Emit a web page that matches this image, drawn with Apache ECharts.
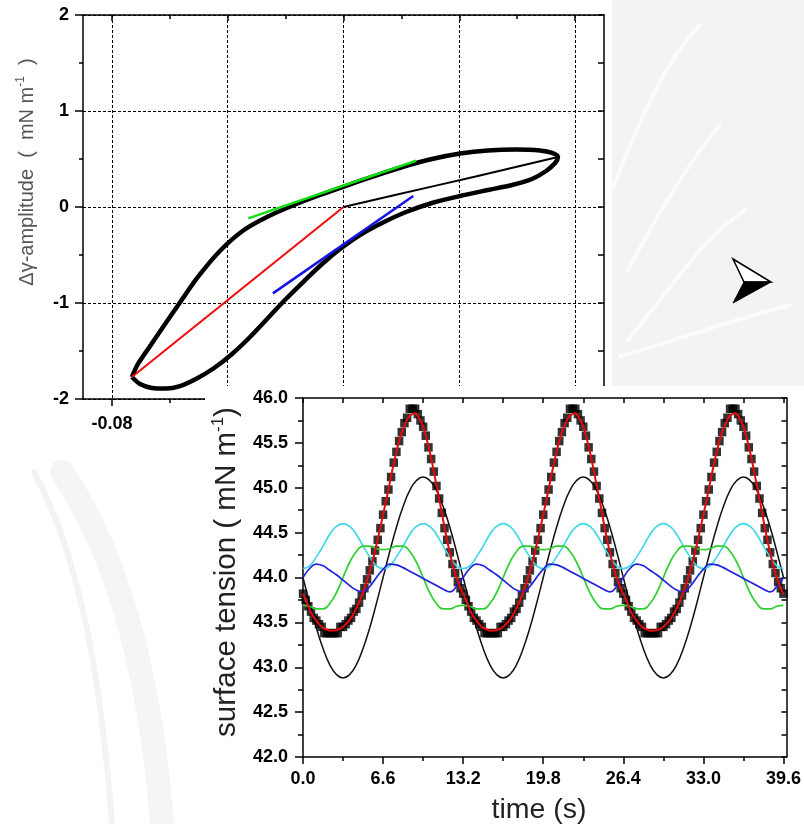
<!DOCTYPE html>
<html><head><meta charset="utf-8">
<script src="https://cdn.jsdelivr.net/npm/echarts@6/dist/echarts.min.js"></script>
<style>
html,body{margin:0;padding:0;background:#fff;width:804px;height:824px;overflow:hidden;}
#top{position:absolute;left:0;top:0;width:804px;height:824px;}
#bot{position:absolute;left:205px;top:386px;width:599px;height:438px;background:#fff;}
</style></head><body>
<div id="top"></div><div id="bot"></div>
<script>
// ---------- top plot (Lissajous) ----------
const xMajorTop = [-0.08, -0.04, 0, 0.04, 0.08];
const xMinorTop = [-0.06, -0.02, 0.02, 0.06];
const loopX = [-0.0731,-0.0703,-0.0662,-0.0613,-0.0565,-0.0510,-0.0447,-0.0385,-0.0323,-0.0261,-0.0199,-0.0136,-0.0074,-0.0012,0.0057,0.0133,0.0216,0.0306,0.0403,0.0499,0.0582,0.0651,0.0700,0.0731,0.0741,
  0.0721,0.0679,0.0596,0.0499,0.0403,0.0306,0.0209,0.0112,0.0016,-0.0081,-0.0171,-0.0261,-0.0344,-0.0427,-0.0503,-0.0565,-0.0620,-0.0668,-0.0710,-0.0731];
const loopY = [-1.771,-1.844,-1.885,-1.891,-1.865,-1.792,-1.677,-1.531,-1.354,-1.156,-0.958,-0.771,-0.594,-0.438,-0.292,-0.167,-0.052,0.042,0.115,0.177,0.229,0.292,0.375,0.458,0.521,
  0.563,0.589,0.599,0.589,0.557,0.500,0.422,0.328,0.229,0.125,0.021,-0.099,-0.240,-0.458,-0.729,-0.995,-1.234,-1.448,-1.635,-1.771];
const innerX = [0, 0.0178, 0.0453, 0.0741];
const innerY = [0, 0.125, 0.316, 0.521];
const redX = [-0.0731, 0];
const redY = [-1.771, 0];
const greenX = [-0.0329, 0.0251];
const greenY = [-0.118, 0.482];
const blueX = [-0.0244, 0.0241];
const blueY = [-0.90, 0.115];

// ---------- bottom plot (time series) ----------
const timeTicks = [0, 6.6, 13.2, 19.8, 26.4, 33.0, 39.6];
const timeMinor = [3.3, 9.9, 16.5, 23.1, 29.7, 36.3];
const timeTop = [0,3.3,6.6,9.9,13.2,16.5,19.8,23.1,26.4,29.7,33.0,36.3,39.6];
const tLine = [0,0.55,1.1,1.65,2.2,2.75,3.3,3.85,4.4,4.95,5.5,6.05,6.6,7.15,7.7,8.25,8.8,9.35,9.9,10.45,11,11.55,12.1,12.65,
  13.2,13.75,14.3,14.85,15.4,15.95,16.5,17.05,17.6,18.15,18.7,19.25,19.8,20.35,20.9,21.45,22,22.55,23.1,23.65,24.2,24.75,25.3,25.85,
  26.4,26.95,27.5,28.05,28.6,29.15,29.7,30.25,30.8,31.35,31.9,32.45,33,33.55,34.1,34.65,35.2,35.75,36.3,36.85,37.4,37.95,38.5,39.05,39.6];
const fundamental = [44.00,43.71,43.44,43.21,43.03,42.92,42.88,42.92,43.03,43.21,43.44,43.71,44.00,44.29,44.56,44.79,44.97,45.08,45.12,45.08,44.97,44.79,44.56,44.29,
  44.00,43.71,43.44,43.21,43.03,42.92,42.88,42.92,43.03,43.21,43.44,43.71,44.00,44.29,44.56,44.79,44.97,45.08,45.12,45.08,44.97,44.79,44.56,44.29,
  44.00,43.71,43.44,43.21,43.03,42.92,42.88,42.92,43.03,43.21,43.44,43.71,44.00,44.29,44.56,44.79,44.97,45.08,45.12,45.08,44.97,44.79,44.56,44.29,44.00];
const cyanH = [44.10,44.13,44.23,44.35,44.48,44.57,44.60,44.57,44.48,44.35,44.23,44.13,
  44.10,44.13,44.23,44.35,44.48,44.57,44.60,44.57,44.48,44.35,44.23,44.13,
  44.10,44.13,44.23,44.35,44.48,44.57,44.60,44.57,44.48,44.35,44.23,44.13,
  44.10,44.13,44.23,44.35,44.48,44.57,44.60,44.57,44.48,44.35,44.23,44.13,
  44.10,44.13,44.23,44.35,44.48,44.57,44.60,44.57,44.48,44.35,44.23,44.13,
  44.10,44.13,44.23,44.35,44.48,44.57,44.60,44.57,44.48,44.35,44.23,44.13,44.10];
const greenH = [43.69,43.68,43.65,43.65,43.71,43.83,44.00,44.17,44.29,44.35,44.35,44.32,44.31,44.32,44.35,44.35,44.29,44.17,44.00,43.83,43.71,43.65,43.65,43.68,
  43.69,43.68,43.65,43.65,43.71,43.83,44.00,44.17,44.29,44.35,44.35,44.32,44.31,44.32,44.35,44.35,44.29,44.17,44.00,43.83,43.71,43.65,43.65,43.68,
  43.69,43.68,43.65,43.65,43.71,43.83,44.00,44.17,44.29,44.35,44.35,44.32,44.31,44.32,44.35,44.35,44.29,44.17,44.00,43.83,43.71,43.65,43.65,43.68,43.69];
const blueH = [44.00,44.10,44.15,44.13,44.08,44.03,43.97,43.91,43.86,43.84,43.90,44.00,44.09,44.15,44.14,44.11,44.07,44.03,43.99,43.95,43.91,43.87,43.84,43.90,
  44.00,44.10,44.15,44.13,44.08,44.03,43.97,43.91,43.86,43.84,43.90,44.00,44.09,44.15,44.14,44.11,44.07,44.03,43.99,43.95,43.91,43.87,43.84,43.90,
  44.00,44.10,44.15,44.13,44.08,44.03,43.97,43.91,43.86,43.84,43.90,44.00,44.09,44.15,44.14,44.11,44.07,44.03,43.99,43.95,43.91,43.87,43.84,43.90,44.00];
const tPts = [0,0.22,0.44,0.66,0.88,1.1,1.32,1.54,1.76,1.98,2.2,2.42,2.64,2.86,3.08,3.3,3.52,3.74,3.96,4.18,4.4,4.62,4.84,5.06,5.28,5.5,5.72,5.94,6.16,6.38,6.6,6.82,7.04,7.26,7.48,7.7,7.92,8.14,8.36,8.58,8.8,9.02,9.24,9.46,9.68,9.9,10.12,10.34,10.56,10.78,11,11.22,11.44,11.66,11.88,12.1,12.32,12.54,12.76,12.98,
  13.2,13.42,13.64,13.86,14.08,14.3,14.52,14.74,14.96,15.18,15.4,15.62,15.84,16.06,16.28,16.5,16.72,16.94,17.16,17.38,17.6,17.82,18.04,18.26,18.48,18.7,18.92,19.14,19.36,19.58,19.8,20.02,20.24,20.46,20.68,20.9,21.12,21.34,21.56,21.78,22,22.22,22.44,22.66,22.88,23.1,23.32,23.54,23.76,23.98,24.2,24.42,24.64,24.86,25.08,25.3,25.52,25.74,25.96,26.18,
  26.4,26.62,26.84,27.06,27.28,27.5,27.72,27.94,28.16,28.38,28.6,28.82,29.04,29.26,29.48,29.7,29.92,30.14,30.36,30.58,30.8,31.02,31.24,31.46,31.68,31.9,32.12,32.34,32.56,32.78,33,33.22,33.44,33.66,33.88,34.1,34.32,34.54,34.76,34.98,35.2,35.42,35.64,35.86,36.08,36.3,36.52,36.74,36.96,37.18,37.4,37.62,37.84,38.06,38.28,38.5,38.72,38.94,39.16,39.38,39.6];
const measured = [43.82,43.75,43.68,43.62,43.55,43.52,43.48,43.45,43.38,43.38,43.38,43.38,43.38,43.38,43.45,43.45,43.48,43.52,43.55,43.62,43.65,43.72,43.80,43.88,43.98,44.08,44.18,44.30,44.42,44.55,44.70,44.85,44.98,45.12,45.28,45.40,45.52,45.62,45.72,45.78,45.88,45.88,45.88,45.82,45.75,45.68,45.58,45.45,45.32,45.18,45.02,44.88,44.72,44.55,44.42,44.28,44.15,44.05,43.95,43.88,
  43.82,43.75,43.68,43.62,43.55,43.52,43.48,43.45,43.38,43.38,43.38,43.38,43.38,43.38,43.45,43.45,43.48,43.52,43.55,43.62,43.65,43.72,43.80,43.88,43.98,44.08,44.18,44.30,44.42,44.55,44.70,44.85,44.98,45.12,45.28,45.40,45.52,45.62,45.72,45.78,45.88,45.88,45.88,45.82,45.75,45.68,45.58,45.45,45.32,45.18,45.02,44.88,44.72,44.55,44.42,44.28,44.15,44.05,43.95,43.88,
  43.82,43.75,43.68,43.62,43.55,43.52,43.48,43.45,43.38,43.38,43.38,43.38,43.38,43.38,43.45,43.45,43.48,43.52,43.55,43.62,43.65,43.72,43.80,43.88,43.98,44.08,44.18,44.30,44.42,44.55,44.70,44.85,44.98,45.12,45.28,45.40,45.52,45.62,45.72,45.78,45.88,45.88,45.88,45.82,45.75,45.68,45.58,45.45,45.32,45.18,45.02,44.88,44.72,44.55,44.42,44.28,44.15,44.05,43.95,43.88,43.82];
const fitted = [43.82,43.75,43.68,43.61,43.56,43.52,43.48,43.45,43.43,43.42,43.41,43.41,43.41,43.42,43.43,43.45,43.48,43.51,43.55,43.60,43.66,43.72,43.80,43.88,43.97,44.07,44.18,44.30,44.43,44.56,44.70,44.84,44.98,45.13,45.27,45.40,45.52,45.62,45.69,45.76,45.80,45.82,45.83,45.80,45.75,45.68,45.58,45.46,45.33,45.18,45.03,44.88,44.72,44.56,44.41,44.28,44.15,44.04,43.96,43.88,
  43.82,43.75,43.68,43.61,43.56,43.52,43.48,43.45,43.43,43.42,43.41,43.41,43.41,43.42,43.43,43.45,43.48,43.51,43.55,43.60,43.66,43.72,43.80,43.88,43.97,44.07,44.18,44.30,44.43,44.56,44.70,44.84,44.98,45.13,45.27,45.40,45.52,45.62,45.69,45.76,45.80,45.82,45.83,45.80,45.75,45.68,45.58,45.46,45.33,45.18,45.03,44.88,44.72,44.56,44.41,44.28,44.15,44.04,43.96,43.88,
  43.82,43.75,43.68,43.61,43.56,43.52,43.48,43.45,43.43,43.42,43.41,43.41,43.41,43.42,43.43,43.45,43.48,43.51,43.55,43.60,43.66,43.72,43.80,43.88,43.97,44.07,44.18,44.30,44.43,44.56,44.70,44.84,44.98,45.13,45.27,45.40,45.52,45.62,45.69,45.76,45.80,45.82,45.83,45.80,45.75,45.68,45.58,45.46,45.33,45.18,45.03,44.88,44.72,44.56,44.41,44.28,44.15,44.04,43.96,43.88,43.82];

const FONT = 'Liberation Sans, Arial, sans-serif';
const zip = (a, b) => a.map((v, i) => [v, b[i]]);
const tickLbl = {color:'#000', fontWeight:'bold', fontSize:18, fontFamily:FONT};
const AX = {color:'#000', width:1.5};

// ===== top chart =====
const topChart = echarts.init(document.getElementById('top'));
function xTop(pos, ticks, len, inside, line, labels) {
  return {type:'value', position:pos, min:-0.09, max:0.09, minInterval:0.04, maxInterval:0.04,
    axisLine:{show:line, onZero:false, lineStyle:AX},
    axisTick:{show:true, inside:inside, length:len, customValues:ticks, lineStyle:AX},
    axisLabel: labels ? Object.assign({show:true, customValues:ticks, margin:16, formatter:v=>v.toFixed(2)}, tickLbl) : {show:false},
    splitLine:{show:false}};
}
const xa0 = xTop('bottom', xMajorTop, 7, false, true, true);
xa0.splitLine = {show:true, lineStyle:{color:'#000', width:1, type:[3,2]}};
const wmStroke = (x1,y1,c1x,c1y,c2x,c2y,x2,y2,w,col) => ({type:'bezierCurve', silent:true, z:-9,
  shape:{x1:x1,y1:y1,cpx1:c1x,cpy1:c1y,cpx2:c2x,cpy2:c2y,x2:x2,y2:y2}, style:{stroke:col, lineWidth:w, fill:null, lineCap:'round'}});
topChart.setOption({
  animation:false,
  graphic:[
    {type:'rect', silent:true, z:-10, shape:{x:612, y:0, width:192, height:386}, style:{fill:'#f3f3f3'}},
    wmStroke(612,190,640,120,665,60,700,25,4,'#fbfbfb'),
    wmStroke(628,270,660,210,690,160,720,125,4,'#fbfbfb'),
    wmStroke(628,340,670,290,700,240,745,210,4,'#fbfbfb'),
    wmStroke(620,356,680,340,730,320,790,305,4,'#fbfbfb'),
    wmStroke(34,472,82,560,102,690,112,824,6,'#f3f3f3'),
    wmStroke(62,472,122,560,152,690,162,824,24,'#f5f5f5'),
    {type:'polygon', silent:true, shape:{points:[[733,259],[771,282],[744,282]]}, style:{fill:'#fff', stroke:'#000', lineWidth:1.5}},
    {type:'polygon', silent:true, shape:{points:[[744,282],[771,282],[733,303]]}, style:{fill:'#000', stroke:'#000', lineWidth:1}},
    {type:'text', x:27, y:172, rotation:Math.PI/2, silent:true,
     style:{text:'{a|Δγ-amplitude  (  mN m}{s|-1}{a|  )}', align:'center', verticalAlign:'middle',
       rich:{a:{fontSize:20, fontFamily:FONT, fill:'#555', lineHeight:24}, s:{fontSize:12, fontFamily:FONT, fill:'#555', verticalAlign:'top', lineHeight:24}}}}
  ],
  grid:{left:83, top:15, width:521, height:384, show:false},
  xAxis:[
    xa0,
    xTop('bottom', xMinorTop, 4, false, false, false),
    xTop('top', xMajorTop, 6, true, true, false),
    xTop('top', xMinorTop, 4, true, false, false)
  ],
  yAxis:[
    {type:'value', position:'left', min:-2, max:2, interval:1,
     axisLine:{show:true, onZero:false, lineStyle:AX},
     axisTick:{show:true, length:8, lineStyle:AX},
     minorTick:{show:true, splitNumber:2, length:4, lineStyle:AX},
     axisLabel:Object.assign({margin:14}, tickLbl),
     splitLine:{show:true, lineStyle:{color:'#000', width:1, type:[3,2]}}},
    {type:'value', position:'right', min:-2, max:2, interval:0.5,
     axisLine:{show:true, onZero:false, lineStyle:AX},
     axisTick:{show:true, inside:true, length:6, lineStyle:AX},
     axisLabel:{show:false}, splitLine:{show:false}}
  ],
  series:[
    {type:'line', data:zip(loopX, loopY), smooth:0.3, symbol:'none', lineStyle:{color:'#000', width:4.5, join:'round'}, z:3},
    {type:'line', data:zip(innerX, innerY), smooth:true, symbol:'none', lineStyle:{color:'#000', width:2}, z:3},
    {type:'line', data:zip(redX, redY), symbol:'none', lineStyle:{color:'#f01010', width:2.2}, z:4},
    {type:'line', data:zip(greenX, greenY), symbol:'none', lineStyle:{color:'#10e010', width:2.5}, z:4},
    {type:'line', data:zip(blueX, blueY), symbol:'none', lineStyle:{color:'#1414e6', width:2.5}, z:4}
  ]
});

// ===== bottom chart =====
const botChart = echarts.init(document.getElementById('bot'));
function tAx(pos, ticks, len, inside, line, labels) {
  return {type:'value', position:pos, min:0, max:39.85,
    axisLine:{show:line, onZero:false, lineStyle:AX},
    axisTick:{show:true, inside:inside, length:len, customValues:ticks, lineStyle:AX},
    axisLabel: labels ? Object.assign({show:true, customValues:ticks, margin:13, formatter:v=>v.toFixed(1)}, tickLbl) : {show:false},
    splitLine:{show:false}};
}
botChart.setOption({
  animation:false,
  graphic:[
    {type:'text', x:22, y:186, rotation:Math.PI/2, silent:true,
     style:{text:'{a|surface tension ( mN m}{s|-1}{a|)}', align:'center', verticalAlign:'middle',
       rich:{a:{fontSize:29.5, fontFamily:FONT, fill:'#222', lineHeight:34}, s:{fontSize:17, fontFamily:FONT, fill:'#222', verticalAlign:'top', lineHeight:34}}}},
    {type:'text', x:334, y:424, silent:true,
     style:{text:'time (s)', align:'center', verticalAlign:'middle', fontSize:28.5, fontFamily:FONT, fill:'#222'}}
  ],
  grid:{left:98, top:12, width:484, height:359, show:false},
  xAxis:[
    tAx('bottom', timeTicks, 7, false, true, true),
    tAx('bottom', timeMinor, 4, false, false, false),
    tAx('top', timeTop, 5, true, true, false)
  ],
  yAxis:[
    {type:'value', position:'left', min:42, max:46, interval:0.5,
     axisLine:{show:true, onZero:false, lineStyle:AX},
     axisTick:{show:true, length:8, lineStyle:AX},
     minorTick:{show:true, splitNumber:2, length:5, lineStyle:AX},
     axisLabel:Object.assign({margin:15, formatter:v=>v.toFixed(1)}, tickLbl),
     splitLine:{show:false}},
    {type:'value', position:'right', min:42, max:46, interval:0.25,
     axisLine:{show:true, onZero:false, lineStyle:AX},
     axisTick:{show:true, inside:true, length:5, lineStyle:AX},
     axisLabel:{show:false}, splitLine:{show:false}}
  ],
  series:[
    {type:'line', data:zip(tLine, fundamental), smooth:true, symbol:'none', lineStyle:{color:'#111', width:1.5}, z:2},
    {type:'scatter', data:zip(tPts, measured), symbol:'rect', symbolSize:8.5, itemStyle:{color:'#000'}, z:3},
    {type:'line', data:zip(tLine, cyanH), smooth:true, symbol:'none', lineStyle:{color:'#3fd8e6', width:1.7}, z:4},
    {type:'line', data:zip(tLine, greenH), smooth:true, symbol:'none', lineStyle:{color:'#30d030', width:1.7}, z:4},
    {type:'line', data:zip(tLine, blueH), smooth:true, symbol:'none', lineStyle:{color:'#2020dd', width:1.7}, z:4},
    {type:'line', data:zip(tPts, fitted), smooth:true, symbol:'none', lineStyle:{color:'#e80a0a', width:2}, z:5}
  ]
});
</script></body></html>
